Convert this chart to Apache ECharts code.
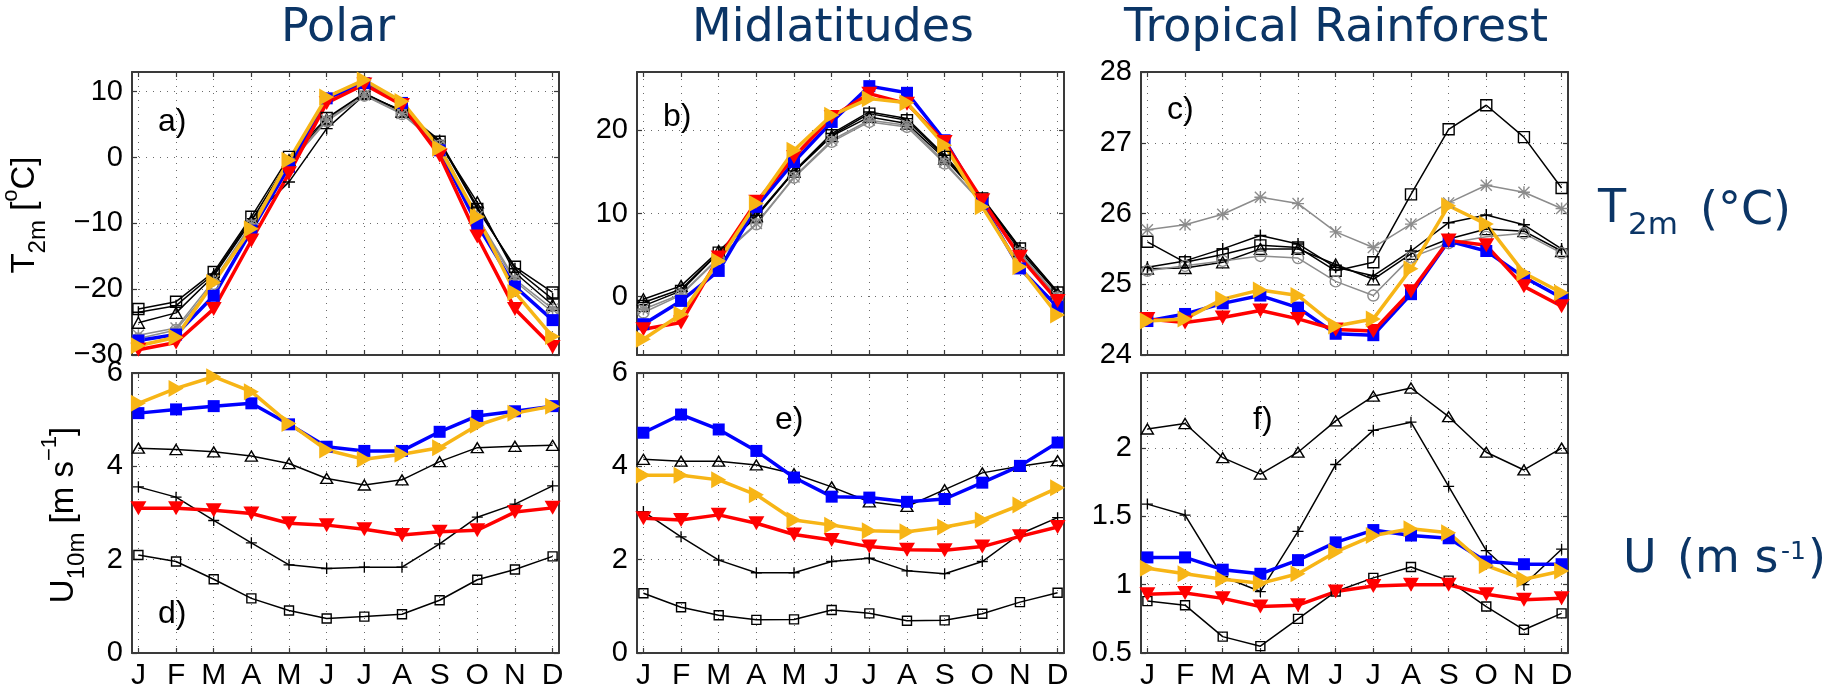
<!DOCTYPE html>
<html lang="en">
<head>
<meta charset="UTF-8">
<title>T2m / U10m annual cycle</title>
<script src="https://cdn.jsdelivr.net/npm/echarts@6.0.0/dist/echarts.min.js"></script>
<style>
  html, body { margin: 0; padding: 0; background: #fff; }
  #main { width: 1843px; height: 693px; }
</style>
</head>
<body>
<div id="main"></div>
<script>
// x axis
var months = ['J', 'F', 'M', 'A', 'M', 'J', 'J', 'A', 'S', 'O', 'N', 'D'];
var monthTicks = [1, 2, 3, 4, 5, 6, 7, 8, 9, 10, 11, 12];

// a) polar T2m
var aSquare   = [-23.0, -21.9, -17.4, -9.0, 0.1, 6.0, 9.8, 7.0, 2.4, -7.8, -16.6, -20.5];
var aPlus     = [-23.5, -22.5, -17.7, -9.3, -3.7, 4.4, 9.5, 7.2, 2.6, -7.5, -16.9, -21.5];
var aTriangle = [-25.1, -23.6, -18.0, -9.6, -0.4, 5.8, 9.7, 7.0, 2.2, -6.8, -17.5, -22.4];
var aStar     = [-27.0, -25.9, -18.7, -10.1, -0.9, 5.7, 9.5, 6.7, 1.9, -9.0, -18.5, -23.0];
var aCircle   = [-27.5, -26.2, -19.2, -10.3, -1.0, 5.5, 9.4, 6.6, 1.8, -9.3, -18.8, -23.5];
var aBlue     = [-27.8, -26.9, -21.0, -11.1, -1.4, 9.0, 11.3, 8.3, 1.1, -10.2, -19.6, -24.7];
var aRed      = [-29.2, -28.1, -23.0, -12.6, -2.4, 8.3, 11.1, 8.0, 0.3, -12.0, -23.0, -28.8];
var aYellow   = [-28.6, -27.3, -19.0, -10.8, -0.4, 9.2, 11.8, 8.5, 1.4, -9.0, -20.5, -27.2];

// b) midlatitudes T2m
var bSquare   = [-1.1, 0.7, 5.3, 9.6, 15.0, 19.4, 22.0, 21.2, 16.8, 11.8, 5.8, 0.5];
var bPlus     = [-0.7, 0.9, 5.3, 9.8, 15.1, 19.6, 22.2, 21.4, 17.0, 11.9, 5.9, 0.6];
var bTriangle = [-0.3, 1.3, 5.5, 9.7, 15.0, 19.3, 21.6, 20.8, 16.6, 11.7, 5.5, 0.4];
var bStar     = [-1.5, 0.3, 4.7, 8.8, 14.4, 18.8, 21.2, 20.6, 16.2, 11.3, 5.3, 0.0];
var bCircle   = [-1.9, 0.2, 4.6, 8.7, 14.3, 18.6, 21.0, 20.4, 16.0, 11.2, 5.2, -0.1];
var bBlue     = [-3.3, -0.5, 3.1, 10.8, 16.2, 21.0, 25.3, 24.5, 18.8, 11.2, 3.4, -1.2];
var bRed      = [-3.9, -3.1, 4.7, 11.4, 16.8, 21.6, 24.4, 23.2, 18.6, 11.6, 4.8, -0.5];
var bYellow   = [-5.1, -2.1, 4.3, 11.2, 17.6, 21.8, 23.8, 23.3, 18.2, 10.8, 3.6, -2.2];

// c) tropical rainforest T2m
var cSquare   = [25.60, 25.31, 25.42, 25.55, 25.52, 25.19, 25.31, 26.27, 27.19, 27.53, 27.08, 26.36];
var cPlus     = [25.24, 25.33, 25.50, 25.69, 25.57, 25.24, 25.12, 25.47, 25.87, 25.98, 25.84, 25.50];
var cTriangle = [25.22, 25.23, 25.31, 25.50, 25.50, 25.28, 25.07, 25.43, 25.64, 25.78, 25.75, 25.47];
var cStar     = [25.77, 25.84, 25.99, 26.23, 26.14, 25.74, 25.52, 25.85, 26.15, 26.40, 26.30, 26.07];
var cCircle   = [25.19, 25.26, 25.33, 25.40, 25.37, 25.04, 24.84, 25.38, 25.58, 25.67, 25.72, 25.44];
var cBlue     = [24.48, 24.58, 24.73, 24.84, 24.67, 24.30, 24.28, 24.86, 25.61, 25.47, 25.10, 24.81];
var cRed      = [24.51, 24.46, 24.53, 24.63, 24.51, 24.36, 24.34, 24.90, 25.62, 25.55, 24.97, 24.69];
var cYellow   = [24.48, 24.51, 24.79, 24.92, 24.84, 24.41, 24.51, 25.22, 26.11, 25.85, 25.16, 24.88];

// d) polar U10m
var dSquare   = [2.10, 1.96, 1.58, 1.17, 0.91, 0.74, 0.78, 0.83, 1.13, 1.57, 1.79, 2.07];
var dPlus     = [3.56, 3.34, 2.84, 2.36, 1.89, 1.81, 1.84, 1.84, 2.34, 2.91, 3.19, 3.58];
var dTriangle = [4.39, 4.36, 4.31, 4.22, 4.06, 3.74, 3.60, 3.71, 4.10, 4.40, 4.43, 4.45];
var dBlue     = [5.14, 5.22, 5.29, 5.35, 4.90, 4.42, 4.33, 4.33, 4.74, 5.08, 5.18, 5.29];
var dRed      = [3.10, 3.10, 3.06, 2.99, 2.78, 2.74, 2.65, 2.53, 2.60, 2.63, 3.02, 3.11];
var dYellow   = [5.35, 5.67, 5.92, 5.60, 4.92, 4.35, 4.15, 4.26, 4.40, 4.88, 5.14, 5.29];

// e) midlatitudes U10m
var eSquare   = [1.28, 0.98, 0.81, 0.71, 0.72, 0.92, 0.85, 0.69, 0.70, 0.84, 1.09, 1.29];
var ePlus     = [3.03, 2.49, 1.99, 1.72, 1.72, 1.96, 2.03, 1.76, 1.70, 1.96, 2.55, 2.90];
var eTriangle = [4.15, 4.11, 4.11, 4.03, 3.84, 3.56, 3.24, 3.14, 3.50, 3.86, 4.00, 4.12];
var eBlue     = [4.72, 5.11, 4.79, 4.33, 3.76, 3.35, 3.33, 3.24, 3.30, 3.65, 4.01, 4.51];
var eRed      = [2.89, 2.85, 2.96, 2.78, 2.54, 2.42, 2.28, 2.21, 2.20, 2.28, 2.50, 2.70];
var eYellow   = [3.81, 3.81, 3.71, 3.39, 2.85, 2.74, 2.62, 2.60, 2.70, 2.85, 3.17, 3.54];

// f) tropical rainforest U10m
var fSquare   = [0.88, 0.85, 0.62, 0.55, 0.75, 0.95, 1.05, 1.13, 1.03, 0.84, 0.67, 0.79];
var fPlus     = [1.59, 1.51, 1.06, 0.95, 1.39, 1.88, 2.13, 2.19, 1.72, 1.25, 1.00, 1.26];
var fTriangle = [2.14, 2.18, 1.93, 1.81, 1.97, 2.20, 2.38, 2.44, 2.23, 1.97, 1.84, 2.00];
var fBlue     = [1.20, 1.20, 1.11, 1.08, 1.18, 1.31, 1.40, 1.36, 1.34, 1.17, 1.15, 1.15];
var fRed      = [0.93, 0.94, 0.90, 0.84, 0.85, 0.95, 0.99, 1.00, 1.00, 0.93, 0.89, 0.90];
var fYellow   = [1.12, 1.08, 1.04, 1.01, 1.08, 1.24, 1.36, 1.41, 1.38, 1.14, 1.04, 1.10];

// y ticks
var aTicks = [-30, -20, -10, 0, 10];
var bTicks = [0, 10, 20];
var cTicks = [24, 25, 26, 27, 28];
var dTicks = [0, 2, 4, 6];
var eTicks = [0, 2, 4, 6];
var fTicks = [0.5, 1, 1.5, 2];

var titles = ['Polar', 'Midlatitudes', 'Tropical Rainforest'];

// ---------------- styles ----------------
var navy = '#0b3566';
var axisColor = '#3a3a3a';
var plusPath = 'path://M4.4,0H5.6V4.4H10V5.6H5.6V10H4.4V5.6H0V4.4H4.4Z';
var starPath = 'path://M4.4,0H5.6V4.4H10V5.6H5.6V10H4.4V5.6H0V4.4H4.4Z' +
    'M0.8,0L5,4.2L9.2,0L10,0.8L5.8,5L10,9.2L9.2,10L5,5.8L0.8,10L0,9.2L4.2,5L0,0.8Z';

// size: [top row, bottom row]
var kinds = {
    square:   {line: '#000', width: 1.5, symbol: 'rect', fill: 'rgba(0,0,0,0)', border: '#000', size: [[11, 11], [9, 9]]},
    plus:     {line: '#000', width: 1.5, symbol: plusPath, fill: '#000', size: [[12, 12], [11, 11]]},
    triangle: {line: '#000', width: 1.5, symbol: 'triangle', fill: 'rgba(0,0,0,0)', border: '#000', size: [[12, 11], [12, 10]]},
    star:     {line: '#8c8c8c', width: 1.5, symbol: starPath, fill: '#8c8c8c', size: [[12, 12], [11, 11]]},
    circle:   {line: '#8c8c8c', width: 1.5, symbol: 'circle', fill: 'rgba(0,0,0,0)', border: '#8c8c8c', size: [[11, 11], [10, 10]]},
    blue:     {line: '#0000ff', width: 3.5, symbol: 'rect', fill: '#0000ff', size: [[12, 12], [12, 12]]},
    red:      {line: '#ff0000', width: 3.5, symbol: 'triangle', rotate: 180, fill: '#ff0000', size: [[16, 14], [16, 14]]},
    yellow:   {line: '#f7b516', width: 3.5, symbol: 'triangle', rotate: -90, fill: '#f7b516', size: [[17, 15], [17, 15]]}
};

var panels = [
    {label: 'a)', row: 0, col: 0, min: -30, max: 13, ticks: aTicks, lab: [158, 122],
     data: {square: aSquare, plus: aPlus, triangle: aTriangle, star: aStar, circle: aCircle, blue: aBlue, red: aRed, yellow: aYellow}},
    {label: 'b)', row: 0, col: 1, min: -7, max: 27, ticks: bTicks, lab: [663, 117],
     data: {square: bSquare, plus: bPlus, triangle: bTriangle, star: bStar, circle: bCircle, blue: bBlue, red: bRed, yellow: bYellow}},
    {label: 'c)', row: 0, col: 2, min: 24, max: 28, ticks: cTicks, lab: [1167, 110],
     data: {square: cSquare, plus: cPlus, triangle: cTriangle, star: cStar, circle: cCircle, blue: cBlue, red: cRed, yellow: cYellow}},
    {label: 'd)', row: 1, col: 0, min: 0, max: 6, ticks: dTicks, lab: [158, 614],
     data: {square: dSquare, plus: dPlus, triangle: dTriangle, blue: dBlue, red: dRed, yellow: dYellow}},
    {label: 'e)', row: 1, col: 1, min: 0, max: 6, ticks: eTicks, lab: [775, 420],
     data: {square: eSquare, plus: ePlus, triangle: eTriangle, blue: eBlue, red: eRed, yellow: eYellow}},
    {label: 'f)', row: 1, col: 2, min: 0.5, max: 2.55, ticks: fTicks, lab: [1253, 420],
     data: {square: fSquare, plus: fPlus, triangle: fTriangle, blue: fBlue, red: fRed, yellow: fYellow}}
];

var gridLefts = [132, 637, 1141];
var gridTops = [72, 373];
var gridHeights = [283, 280];
var gridWidth = 427;
var labelFont = 'Liberation Sans';

function fmtNum(v) {
    return String(v).replace('-', '\u2212');
}

var grid = [], xAxis = [], yAxis = [], series = [], graphic = [];

panels.forEach(function (p, i) {
    grid.push({left: gridLefts[p.col], top: gridTops[p.row], width: gridWidth, height: gridHeights[p.row], show: false});

    var line = {show: true, onZero: false, lineStyle: {color: axisColor, width: 2}};
    var dotted = {show: true, lineStyle: {color: '#6a6a6a', width: 1, type: [1, 6]}};
    // bottom x axis
    xAxis.push({
        gridIndex: i, type: 'value', min: 0.83, max: 12.17, position: 'bottom',
        axisLine: line,
        axisTick: {show: true, inside: true, length: 5, customValues: monthTicks, lineStyle: {color: axisColor, width: 1.2}},
        axisLabel: {show: p.row === 1, customValues: monthTicks, margin: 8, color: '#000', fontSize: 30, fontFamily: labelFont,
                    formatter: function (v) { return months[Math.round(v) - 1]; }},
        splitLine: dotted
    });
    // top x axis (ticks only)
    xAxis.push({
        gridIndex: i, type: 'value', min: 0.83, max: 12.17, position: 'top',
        axisLine: line,
        axisTick: {show: true, inside: true, length: 5, customValues: monthTicks, lineStyle: {color: axisColor, width: 1.2}},
        axisLabel: {show: false}, splitLine: {show: false}
    });
    // left y axis
    yAxis.push({
        gridIndex: i, type: 'value', min: p.min, max: p.max, position: 'left',
        axisLine: line,
        axisTick: {show: true, inside: true, length: 5, customValues: p.ticks, lineStyle: {color: axisColor, width: 1.2}},
        axisLabel: {customValues: p.ticks, margin: 9, color: '#000', fontSize: 29, fontFamily: labelFont, formatter: fmtNum},
        splitLine: dotted
    });
    // right y axis (ticks only)
    yAxis.push({
        gridIndex: i, type: 'value', min: p.min, max: p.max, position: 'right',
        axisLine: line,
        axisTick: {show: true, inside: true, length: 5, customValues: p.ticks, lineStyle: {color: axisColor, width: 1.2}},
        axisLabel: {show: false}, splitLine: {show: false}
    });

    Object.keys(kinds).forEach(function (k) {
        var vals = p.data[k];
        if (!vals) return;
        var s = kinds[k];
        series.push({
            type: 'line',
            name: k,
            xAxisIndex: 2 * i,
            yAxisIndex: 2 * i,
            data: vals.map(function (v, j) { return [monthTicks[j], v]; }),
            symbol: s.symbol,
            symbolRotate: s.rotate || 0,
            symbolSize: s.size[p.row],
            showSymbol: true,
            lineStyle: {color: s.line, width: s.width},
            itemStyle: {color: s.fill, borderColor: s.border || s.fill, borderWidth: s.border ? 1.4 : 0},
            emphasis: {disabled: true},
            clip: false
        });
    });

    graphic.push({
        type: 'text', x: p.lab[0], y: p.lab[1], z: 100,
        style: {text: p.label, font: '32px ' + labelFont, fill: '#000', textAlign: 'left', textVerticalAlign: 'middle',
                align: 'left', verticalAlign: 'middle'}
    });
});

// column titles
[338, 833, 1336].forEach(function (x, c) {
    graphic.push({
        type: 'text', x: x, y: 29,
        style: {text: titles[c], font: '46px DejaVu Sans', fill: navy, textAlign: 'center', textVerticalAlign: 'middle',
                align: 'center', verticalAlign: 'middle'}
    });
});

// rotated y labels with sub/superscripts
function yLabel(x, y, text) {
    return {
        type: 'text', x: x, y: y, rotation: Math.PI / 2,
        style: {
            text: text, textAlign: 'center', textVerticalAlign: 'middle', align: 'center', verticalAlign: 'middle',
            rich: {
                m: {fontSize: 33, fontFamily: labelFont, lineHeight: 50, fill: '#000'},
                s: {fontSize: 24, fontFamily: labelFont, lineHeight: 9, verticalAlign: 'bottom', fill: '#000'},
                p: {fontSize: 22, fontFamily: labelFont, lineHeight: 26, verticalAlign: 'top', fill: '#000'}
            }
        }
    };
}
graphic.push(yLabel(25, 215, '{m|T}{s|2m}{m| [}{p|o}{m|C]}'));
graphic.push(yLabel(64, 515, '{m|U}{s|10m}{m| [m s}{p|\u22121}{m|]}'));

// right-hand row labels
function navyText(x, y, t, size) {
    return {type: 'text', x: x, y: y,
            style: {text: t, font: size + 'px DejaVu Sans', fill: navy, textAlign: 'left', textVerticalAlign: 'middle',
                    align: 'left', verticalAlign: 'middle'}};
}
graphic.push(navyText(1598, 210, 'T', 46));
graphic.push(navyText(1628, 226, '2m', 31));
graphic.push(navyText(1700, 212, '(\u00b0C)', 46));
graphic.push(navyText(1623, 560, 'U', 46));
graphic.push(navyText(1677, 560, '(m s', 46));
graphic.push(navyText(1781, 552, '-1', 25));
graphic.push(navyText(1808, 560, ')', 46));

var chart = echarts.init(document.getElementById('main'));
chart.setOption({
    animation: false,
    backgroundColor: '#fff',
    grid: grid,
    xAxis: xAxis,
    yAxis: yAxis,
    series: series,
    graphic: graphic
});
</script>
</body>
</html>
